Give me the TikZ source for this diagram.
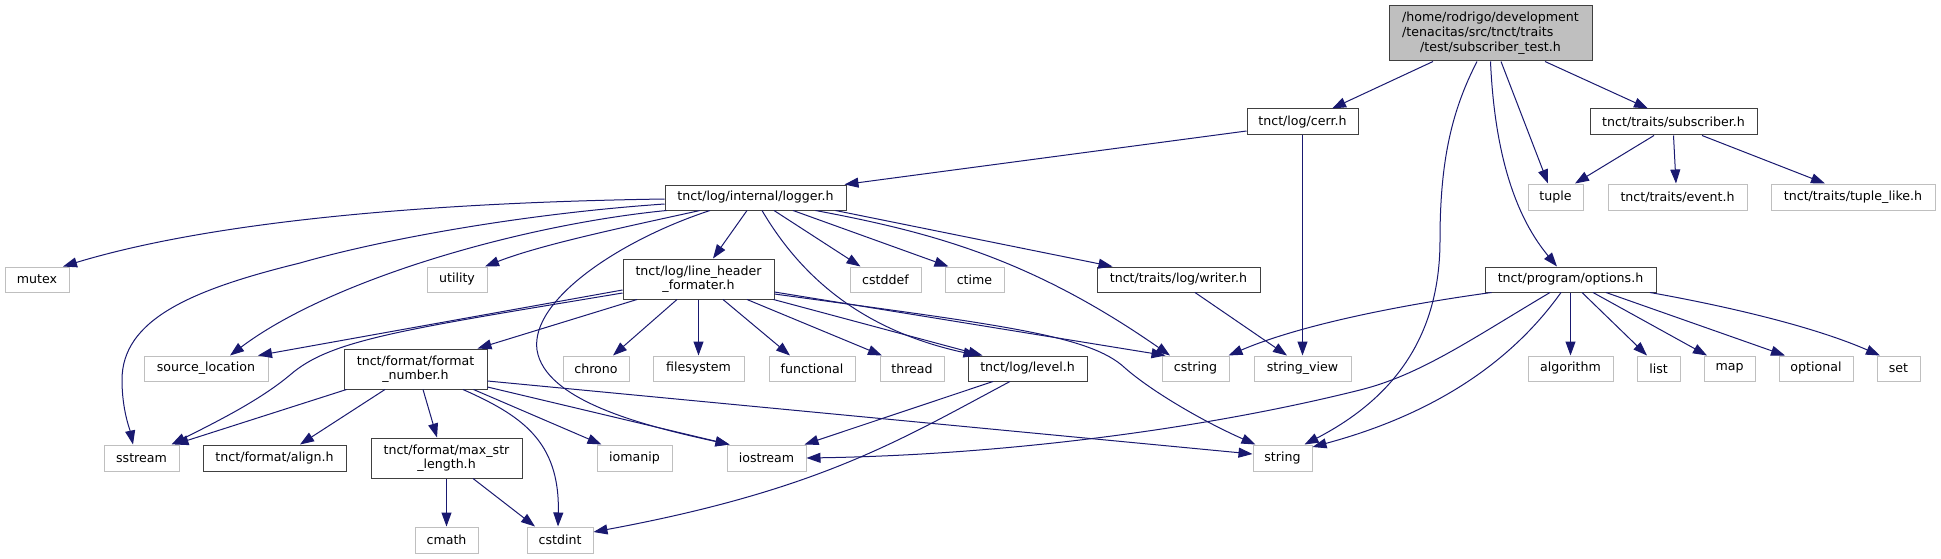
\documentclass[tikz,border=0pt]{standalone}
\usepackage{fontspec}
\usetikzlibrary{arrows.meta}
\newfontfamily\dvsans{DejaVu Sans}
\definecolor{edgecol}{HTML}{191970}
\definecolor{docborder}{HTML}{404040}
\definecolor{extborder}{HTML}{BFBFBF}
\definecolor{rootfill}{HTML}{BFBFBF}
\tikzset{
  box/.style={line width=1pt, inner sep=0pt, align=center, text=black,
    font=\dvsans\fontsize{12.6pt}{14.6pt}\selectfont, minimum height=25pt},
  doc/.style={box, draw=docborder, fill=white},
  ext/.style={box, draw=extborder, fill=white},
  rootbox/.style={box, draw=docborder, fill=rootfill},
  edge/.style={draw=edgecol, line width=1pt, -{Triangle[length=14pt,width=10pt]}},
}
\begin{document}
\begin{tikzpicture}[x=1pt,y=1pt]
\useasboundingbox[fill=white] (0,0) rectangle (1941,-559);
% row 0
\node[rootbox, minimum width=203pt, minimum height=55pt] (root) at (1490.5,-33.5)
 {\begin{tabular}{@{}l@{}}/home/rodrigo/development\\/tenacitas/src/tnct/traits\\\multicolumn{1}{@{}c@{}}{/test/subscriber\_test.h}\end{tabular}};
% row 1
\node[doc, minimum width=111pt, minimum height=26pt] (cerr) at (1302.5,-122) {tnct/log/cerr.h};
\node[doc, minimum width=167pt, minimum height=26pt] (subscriber) at (1673.5,-122) {tnct/traits/subscriber.h};
% row 2
\node[doc, minimum width=181pt] (logger) at (755.5,-197.5) {tnct/log/internal/logger.h};
\node[ext, minimum width=55pt, minimum height=26pt] (tuple) at (1555.5,-197) {tuple};
\node[ext, minimum width=139pt, minimum height=26pt] (event) at (1677.5,-197) {tnct/traits/event.h};
\node[ext, minimum width=164pt, minimum height=26pt] (tuplelike) at (1853,-197) {tnct/traits/tuple\_like.h};
% row 3
\node[ext, minimum width=64pt] (mutex) at (37,-279.5) {mutex};
\node[ext, minimum width=60pt] (utility) at (457,-279.5) {utility};
\node[doc, minimum width=151pt, minimum height=40pt] (lhf) at (698.5,-279) {tnct/log/line\_header\\\_formater.h};
\node[ext, minimum width=71pt] (cstddef) at (885.5,-279.5) {cstddef};
\node[ext, minimum width=59pt] (ctime) at (974.5,-279.5) {ctime};
\node[doc, minimum width=163pt] (writer) at (1178.5,-279.5) {tnct/traits/log/writer.h};
\node[doc, minimum width=171pt] (options) at (1570.5,-279.5) {tnct/program/options.h};
% row 4
\node[ext, minimum width=124pt] (srcloc) at (206,-368.5) {source\_location};
\node[doc, minimum width=143pt, minimum height=40pt] (fmtnum) at (415.5,-369) {tnct/format/format\\\_number.h};
\node[ext, minimum width=66pt] (chrono) at (596,-368.5) {chrono};
\node[ext, minimum width=91pt] (filesystem) at (698.5,-368.5) {filesystem};
\node[ext, minimum width=86pt] (functional) at (812,-368.5) {functional};
\node[ext, minimum width=64pt] (thread) at (912,-368.5) {thread};
\node[doc, minimum width=119pt] (level) at (1027.5,-368.5) {tnct/log/level.h};
\node[ext, minimum width=67pt] (cstring) at (1195.5,-368.5) {cstring};
\node[ext, minimum width=97pt] (stringview) at (1302.5,-368.5) {string\_view};
\node[ext, minimum width=85pt] (algorithm) at (1570.5,-368.5) {algorithm};
\node[ext, minimum width=43pt] (list) at (1658.5,-368.5) {list};
\node[ext, minimum width=51pt] (map) at (1729.5,-368.5) {map};
\node[ext, minimum width=74pt] (optional) at (1816,-368.5) {optional};
\node[ext, minimum width=43pt] (set) at (1898.5,-368.5) {set};
% row 5
\node[ext, minimum width=75pt, minimum height=26pt] (sstream) at (141.5,-458) {sstream};
\node[doc, minimum width=143pt, minimum height=26pt] (align) at (274.5,-458) {tnct/format/align.h};
\node[doc, minimum width=151pt, minimum height=40pt] (maxstr) at (446.5,-458) {tnct/format/max\_str\\\_length.h};
\node[ext, minimum width=75pt, minimum height=26pt] (iomanip) at (634.5,-458) {iomanip};
\node[ext, minimum width=79pt, minimum height=26pt] (iostream) at (766.5,-458) {iostream};
\node[ext, minimum width=59pt, minimum height=26pt] (string) at (1282.5,-458) {string};
% row 6
\node[ext, minimum width=63pt, minimum height=26pt] (cmath) at (446.5,-540) {cmath};
\node[ext, minimum width=66pt, minimum height=26pt] (cstdint) at (560,-540) {cstdint};

% root edges
\draw[edge] ([xshift=-57.5pt]root.south) -- ([xshift=29.5pt]cerr.north);
\draw[edge] ([xshift=-13.5pt]root.south) .. controls (1452,-110) and (1440,-160) .. (1440,-240) .. controls (1440,-330) and (1400,-395) .. ([xshift=22pt]string.north);
\draw[edge] (root.south) .. controls (1494,-140) and (1510,-210) .. ([xshift=-13.5pt]options.north);
\draw[edge] ([xshift=10.5pt]root.south) -- ([xshift=-7.5pt]tuple.north);
\draw[edge] ([xshift=54.5pt]root.south) -- ([xshift=-25.5pt]subscriber.north);
% cerr
\draw[edge] ([yshift=-9pt]cerr.west) -- ([xshift=-2pt]logger.north east);
\draw[edge] (cerr.south) -- (stringview.north);
% subscriber
\draw[edge] ([xshift=-19.5pt]subscriber.south) -- ([xshift=19.5pt]tuple.north);
\draw[edge] (subscriber.south) -- ([xshift=-1.5pt]event.north);
\draw[edge] ([xshift=28.5pt]subscriber.south) -- ([xshift=-28pt]tuplelike.north);
% logger
\draw[edge] ([yshift=-1.5pt]logger.west) .. controls (400,-203) and (200,-225) .. ([xshift=26pt]mutex.north);
\draw[edge] ([yshift=-6.5pt]logger.west) .. controls (520,-214) and (380,-240) .. (300,-263) .. controls (190,-290) and (122,-320) .. (122,-380) .. controls (122,-410) and (130,-430) .. ([xshift=-8.5pt]sstream.north);
\draw[edge] ([xshift=2pt]logger.south west) .. controls (520,-225) and (330,-280) .. ([xshift=24pt]srcloc.north);
\draw[edge] ([xshift=-55.5pt]logger.south) .. controls (620,-228) and (540,-245) .. ([xshift=28pt]utility.north);
\draw[edge] ([xshift=-45.5pt]logger.south) .. controls (620,-240) and (530,-300) .. (537,-350) .. controls (545,-400) and (640,-425) .. ([xshift=-37pt]iostream.north);
\draw[edge] ([xshift=-8.5pt]logger.south) -- ([xshift=14.5pt]lhf.north);
\draw[edge] ([xshift=6.5pt]logger.south) .. controls (800,-275) and (860,-330) .. ([xshift=-50pt]level.north);
\draw[edge] ([xshift=18.5pt]logger.south) -- ([xshift=-25pt]cstddef.north);
\draw[edge] ([xshift=37.5pt]logger.south) -- ([xshift=-26pt]ctime.north);
\draw[edge] ([xshift=60pt]logger.south) .. controls (930,-232) and (1030,-258) .. ([xshift=-25.5pt]cstring.north);
\draw[edge] ([xshift=80pt]logger.south) -- ([xshift=-66pt]writer.north);
% line header formater
\draw[edge] ([yshift=-11pt]lhf.west) -- ([xshift=52pt]srcloc.north);
\draw[edge] ([yshift=-14pt]lhf.west) .. controls (400,-330) and (330,-340) .. (290,-375) .. controls (260,-400) and (220,-420) .. ([xshift=30pt]sstream.north);
\draw[edge] ([xshift=-61.5pt]lhf.south) -- ([xshift=62pt]fmtnum.north);
\draw[edge] ([xshift=-21.5pt]lhf.south) -- ([xshift=17pt]chrono.north);
\draw[edge] (lhf.south) -- (filesystem.north);
\draw[edge] ([xshift=24.5pt]lhf.south) -- ([xshift=-22pt]functional.north);
\draw[edge] ([xshift=48.5pt]lhf.south) -- ([xshift=-30pt]thread.north);
\draw[edge] ([xshift=-1pt]lhf.south east) -- ([xshift=-45pt]level.north);
\draw[edge] ([yshift=-13pt]lhf.east) -- ([xshift=-30pt]cstring.north);
\draw[edge] ([yshift=-15pt]lhf.east) .. controls (1000,-325) and (1090,-335) .. (1125,-368) .. controls (1150,-390) and (1200,-420) .. ([xshift=-27pt]string.north);
% format number
\draw[edge] ([xshift=3pt]fmtnum.south west) -- ([xshift=33pt]sstream.north);
\draw[edge] ([xshift=-30.5pt]fmtnum.south) -- ([xshift=25.5pt]align.north);
\draw[edge] ([xshift=7.5pt]fmtnum.south) -- ([xshift=-9.5pt]maxstr.north);
\draw[edge] ([xshift=47.5pt]fmtnum.south) .. controls (520,-415) and (560,-440) .. ([xshift=-2pt]cstdint.north);
\draw[edge] ([xshift=58pt]fmtnum.south) -- ([xshift=-33pt]iomanip.north);
\draw[edge] ([yshift=-18pt]fmtnum.east) -- ([xshift=-37pt]iostream.north);
\draw[edge] ([yshift=-12pt]fmtnum.east) -- ([yshift=4pt]string.west);
% max str length
\draw[edge] (maxstr.south) -- (cmath.north);
\draw[edge] ([xshift=26.5pt]maxstr.south) -- ([xshift=-25pt]cstdint.north);
% level
\draw[edge] ([xshift=-34.5pt]level.south) -- ([xshift=38pt]iostream.north);
\draw[edge] ([xshift=-17.5pt]level.south) .. controls (900,-440) and (820,-490) .. ([yshift=8pt]cstdint.east);
% writer
\draw[edge] ([xshift=16.5pt]writer.south) -- ([xshift=-15.5pt]stringview.north);
% options
\draw[edge] ([xshift=7pt]options.south west) .. controls (1400,-305) and (1300,-325) .. ([xshift=33pt]cstring.north);
\draw[edge] ([xshift=-20.5pt]options.south) .. controls (1470,-340) and (1420,-375) .. (1360,-390) .. controls (1200,-430) and (1000,-455) .. (iostream.east);
\draw[edge] ([xshift=-9.5pt]options.south) .. controls (1520,-350) and (1450,-410) .. ([yshift=11pt]string.east);
\draw[edge] (options.south) -- (algorithm.north);
\draw[edge] ([xshift=11.5pt]options.south) -- ([xshift=-11.5pt]list.north);
\draw[edge] ([xshift=22.5pt]options.south) -- ([xshift=-22.5pt]map.north);
\draw[edge] ([xshift=35.5pt]options.south) -- ([xshift=-31pt]optional.north);
\draw[edge] ([xshift=79.5pt]options.south) .. controls (1720,-305) and (1810,-325) .. ([xshift=-18.5pt]set.north);
\end{tikzpicture}
\end{document}
